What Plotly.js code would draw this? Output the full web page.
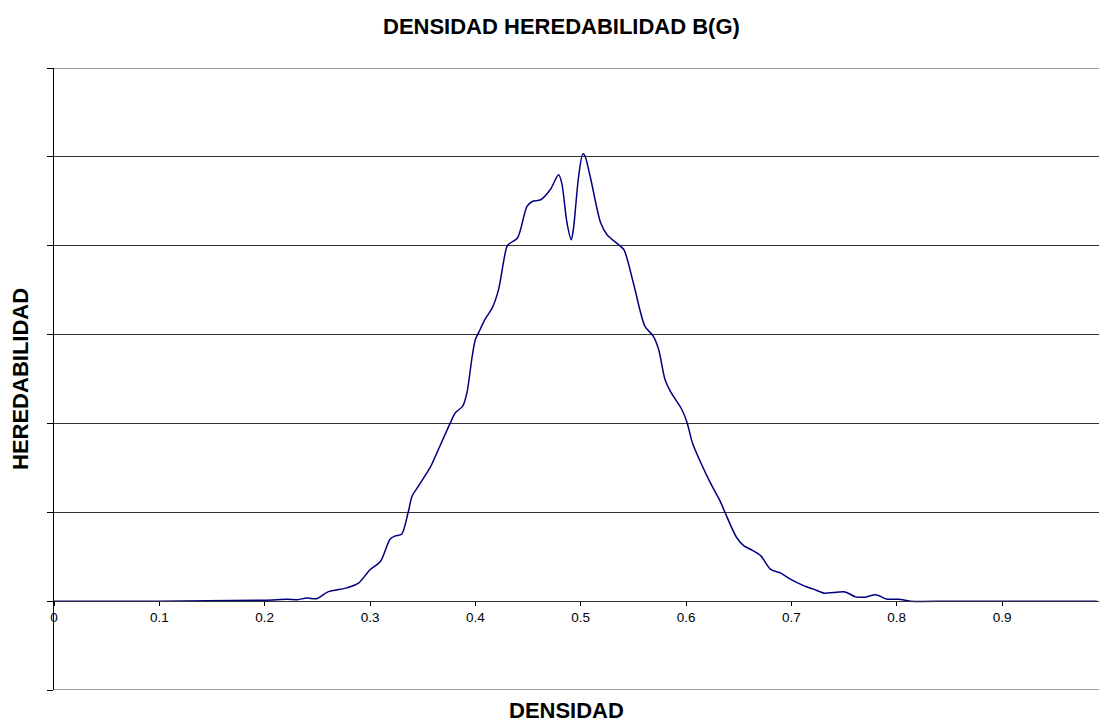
<!DOCTYPE html>
<html>
<head>
<meta charset="utf-8">
<script src="https://cdn.plot.ly/plotly-3.0.1.min.js"></script>
<style>html,body{margin:0;padding:0;background:#fff;}#chart{width:1101px;height:722px;}</style>
</head>
<body>
<div id="chart"></div>
<script>
const heredabilidad = [0, 0.10, 0.20, 0.221, 0.231, 0.240, 0.250, 0.260, 0.278, 0.289, 0.300, 0.310, 0.319, 0.324, 0.330, 0.336, 0.340, 0.346, 0.357, 0.360, 0.376, 0.381, 0.388, 0.392, 0.397, 0.400, 0.403, 0.409, 0.416, 0.422, 0.430, 0.433, 0.440, 0.449, 0.454, 0.462, 0.471, 0.479, 0.482, 0.487, 0.491, 0.493, 0.498, 0.502, 0.504, 0.509, 0.519, 0.525, 0.536, 0.541, 0.550, 0.561, 0.569, 0.574, 0.580, 0.585, 0.596, 0.601, 0.606, 0.614, 0.623, 0.633, 0.637, 0.648, 0.655, 0.661, 0.671, 0.680, 0.690, 0.699, 0.712, 0.721, 0.731, 0.740, 0.751, 0.761, 0.770, 0.780, 0.791, 0.802, 0.813, 0.85, 0.90, 0.95, 0.99];
const densidad = [0, 0, 0.01, 0.02, 0.017, 0.034, 0.03, 0.104, 0.149, 0.202, 0.354, 0.449, 0.697, 0.734, 0.753, 0.989, 1.183, 1.296, 1.502, 1.576, 2.0, 2.12, 2.194, 2.345, 2.756, 2.944, 3.019, 3.169, 3.30, 3.506, 3.992, 4.03, 4.087, 4.442, 4.498, 4.517, 4.629, 4.798, 4.704, 4.255, 4.067, 4.18, 4.779, 5.034, 5.011, 4.779, 4.255, 4.124, 4.011, 3.955, 3.581, 3.093, 2.981, 2.831, 2.494, 2.363, 2.157, 2.008, 1.783, 1.558, 1.334, 1.109, 0.997, 0.716, 0.621, 0.584, 0.509, 0.36, 0.315, 0.247, 0.172, 0.135, 0.09, 0.098, 0.104, 0.048, 0.045, 0.071, 0.022, 0.022, 0, 0, 0, 0, 0];
const xTickVals = [0, 0.1, 0.2, 0.3, 0.4, 0.5, 0.6, 0.7, 0.8, 0.9];
const xTickText = ['0', '0.1', '0.2', '0.3', '0.4', '0.5', '0.6', '0.7', '0.8', '0.9'];

const font = 'Arial, "Liberation Sans", sans-serif';
const yMin = -1, yMax = 6;

Plotly.newPlot('chart', [{
  x: heredabilidad, y: densidad, type: 'scatter', mode: 'lines',
  line: {color: '#00007f', width: 1.5, shape: 'spline', smoothing: 0.8},
  hoverinfo: 'skip'
}], {
  width: 1101, height: 722,
  margin: {l: 54, r: 2, t: 68, b: 32},
  paper_bgcolor: '#fff', plot_bgcolor: '#fff',
  showlegend: false,
  font: {family: font, color: '#000'},
  xaxis: {
    range: [0, 0.992], anchor: 'free', position: (0 - yMin) / (yMax - yMin),
    tickvals: xTickVals, ticktext: xTickText,
    ticks: 'outside', ticklen: 4, tickcolor: '#000', tickwidth: 1,
    showline: true, linecolor: '#333', linewidth: 1,
    showgrid: false, zeroline: false,
    tickfont: {size: 13.5, family: font, color: '#000'}
  },
  yaxis: {
    range: [yMin, yMax], dtick: 1, tick0: 0,
    showticklabels: false, ticks: 'outside', ticklen: 6, tickcolor: '#000',
    showline: true, linecolor: '#000', linewidth: 1,
    showgrid: true, gridcolor: '#333', gridwidth: 1, zeroline: false
  },
  shapes: [
    {type: 'line', xref: 'paper', yref: 'y', x0: 0, x1: 1, y0: yMax, y1: yMax, line: {color: '#808080', width: 1.5}},
    {type: 'line', xref: 'paper', yref: 'y', x0: 0, x1: 1, y0: yMin, y1: yMin, line: {color: '#808080', width: 1.5}}
  ],
  annotations: [
    {text: '<b>DENSIDAD HEREDABILIDAD B(G)</b>', xref: 'paper', yref: 'paper', x: 0.486, y: 1, yshift: 42, showarrow: false, xanchor: 'center', yanchor: 'middle', font: {size: 22, family: font, color: '#000'}},
    {text: '<b>DENSIDAD</b>', xref: 'paper', yref: 'paper', x: 0.49, y: 0, yshift: -20, showarrow: false, xanchor: 'center', yanchor: 'middle', font: {size: 22, family: font, color: '#000'}},
    {text: '<b>HEREDABILIDAD</b>', xref: 'paper', yref: 'paper', x: 0, xshift: -34, y: 0.5, textangle: -90, showarrow: false, xanchor: 'center', yanchor: 'middle', font: {size: 22, family: font, color: '#000'}}
  ]
}, {staticPlot: true});
</script>
</body>
</html>
